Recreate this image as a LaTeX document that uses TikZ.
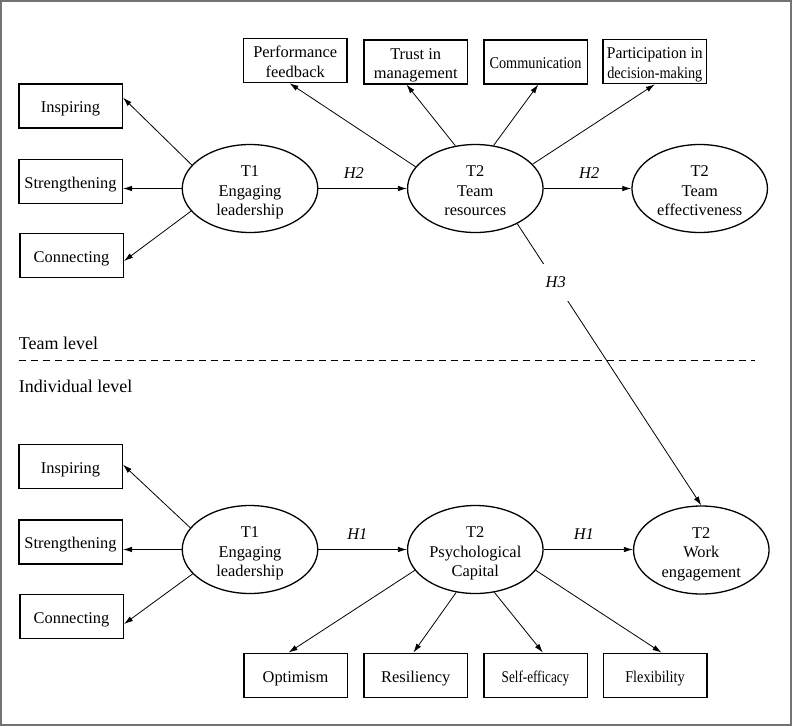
\documentclass[tikz,border=0pt]{standalone}
\usepackage{graphicx}
\usepackage{fontspec}
\setmainfont{Liberation Serif}
\newfontfamily\narrowserif{Liberation Serif}[FakeStretch=0.87]
\newfontfamily\semiserif{Liberation Serif}[FakeStretch=0.95]
\usetikzlibrary{arrows.meta,shapes.geometric}
\begin{document}
\begin{tikzpicture}[x=1pt,y=-1pt,
  txt/.style={font=\fontsize{16.4}{19.4}\selectfont},
  box/.style={txt, draw, line width=1.5pt, minimum width=103.5pt, minimum height=44pt, inner sep=0pt, align=center, text height=13.8pt, text depth=0pt},
  boxtwo/.style={box, text height=33.2pt},
  lat/.style={txt, draw, ellipse, line width=1.3pt, minimum width=135.5pt, minimum height=88pt, inner sep=0pt, align=center, text height=54.5pt, text depth=0pt},
  arr/.style={line width=0.8pt, -{Latex[length=9pt,width=5.5pt]}},
  hyp/.style={font=\fontsize{16.4}{19.4}\selectfont\itshape, inner sep=1pt},
  lvl/.style={font=\fontsize{18}{21}\selectfont, inner sep=0pt, anchor=west},
]
\useasboundingbox (0,0) rectangle (792,726);
\draw[line width=2pt, black!55] (1,1) rectangle (790.5,724.5);

% ---- Team level ----
\node[box] (I1) at (70.5,106) {Inspiring};
\node[box] (S1) at (70.5,181.7) {Strengthening};
\node[box] (C1) at (71.5,255.5) {Connecting};
\node[lat] (EL1) at (250,188.5) {T1\\Engaging\\leadership};
\node[lat] (TR) at (475.3,188.5) {T2\\Team\\resources};
\node[lat] (TE) at (699.7,188.5) {T2\\Team\\effectiveness};

\node[boxtwo] (PF) at (295.2,60.5) {Performance\\feedback};
\node[boxtwo] (TM) at (415.7,61.8) {Trust in\\management};
\node[box] (CO) at (535.5,61.8) {\narrowserif Communication};
\node[boxtwo] (PD) at (654.8,61.6) {\semiserif Participation in\\\narrowserif decision-making};

\draw[arr] (EL1.158.6) -- (I1.9);
\draw[arr] (EL1.west) -- (EL1.west -| S1.east);
\draw[arr] (EL1.201) -- (C1.-6);
\draw[arr] (EL1.east) -- node[hyp, pos=0.4, above=9pt] {H2} (TR.west);
\draw[arr] (TR.east) -- node[hyp, pos=0.52, above=9pt] {H2} (TE.west);

\draw[arr] (TR.160.6) -- (PF.256);
\draw[arr] (TR.115.8) -- (TM.248.8);
\draw[arr] (TR.67.5) -- (CO.277);
\draw[arr] (TR.23.5) -- (PD.south);

% ---- level separator ----
\node[lvl] (TL) at (18.7,343) {Team level};
\node[lvl] (IL) at (18.7,386) {Individual level};
\coordinate (dl) at (18.7,360);
\coordinate (dr) at (755,360);
\draw[line width=0.9pt, dash pattern=on 7pt off 5pt] (dl) -- (dr);

% ---- Individual level ----
\node[box] (I2) at (70.5,466.5) {Inspiring};
\node[box] (S2) at (70.5,541.8) {Strengthening};
\node[box] (C2) at (71.5,616.7) {Connecting};
\node[lat] (EL2) at (250,549.5) {T1\\Engaging\\leadership};
\node[lat] (PC) at (475.3,549.5) {T2\\Psychological\\Capital};
\node[lat] (WE) at (701.3,550) {T2\\Work\\engagement};

\node[box] (OP) at (295.5,675.3) {Optimism};
\node[box] (RE) at (415.8,675.3) {Resiliency};
\node[box] (SE) at (535.5,675.3) {\scalebox{0.92}[1]{\narrowserif Self-efficacy}};
\node[box] (FL) at (655,675.3) {\narrowserif Flexibility};

\draw[arr] (EL2.160.9) -- (I2.2);
\draw[arr] (EL2.west) -- (EL2.west -| S2.east);
\draw[arr] (EL2.203) -- (C2.-8);
\draw[arr] (EL2.east) -- node[hyp, pos=0.44, above=9pt] {H1} (PC.west);
\draw[arr] (PC.east) -- node[hyp, pos=0.45, above=9pt] {H1} (PC.east -| WE.west);

\draw[arr] (PC.199.3) -- (OP.107);
\draw[arr] (PC.246.8) -- (RE.96);
\draw[arr] (PC.294.7) -- (SE.72);
\draw[arr] (PC.341.8) -- (FL.74);

% ---- cross-level ----
\draw[arr] (TR.-40) -- node[hyp, pos=0.209, fill=white, minimum width=28pt, minimum height=37pt] {H3} (WE.north);
\end{tikzpicture}
\end{document}
